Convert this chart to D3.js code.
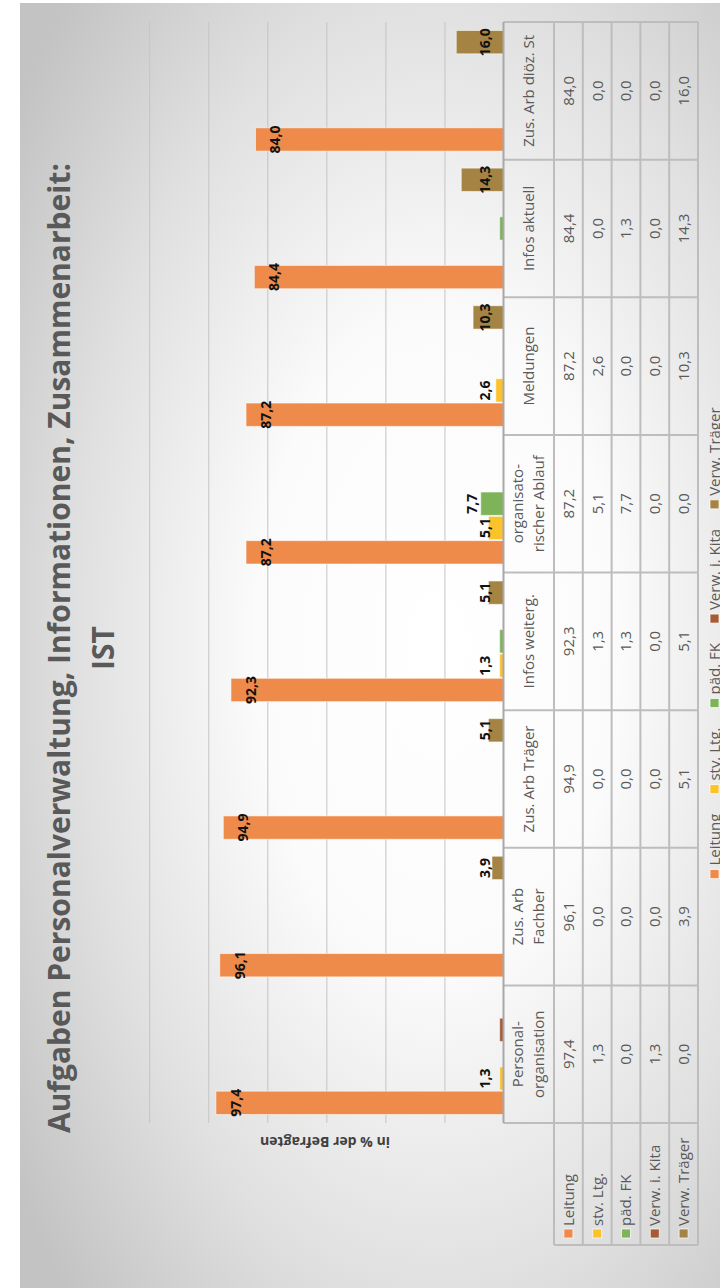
<!DOCTYPE html>
<html>
<head>
<meta charset="utf-8">
<script src="https://cdn.jsdelivr.net/npm/d3@7"></script>
<style>
body { margin: 0; background: #fff; }
svg { display: block; }
text { font-family: "Open Sans", sans-serif; }
</style>
</head>
<body>
<div id="chart"></div>
<script>
// Categories (table columns) and series (table rows)
var categories = ['Personal-\norganisation', 'Zus. Arb\nFachber', 'Zus. Arb Träger', 'Infos weiterg.',
    'organisato-\nrischer Ablauf', 'Meldungen', 'Infos aktuell', 'Zus. Arb diöz. St'];
var series = ['Leitung', 'stv. Ltg.', 'päd. FK', 'Verw. i. Kita', 'Verw. Träger'];

// Values in % der Befragten
var leitung     = [97.4, 96.1, 94.9, 92.3, 87.2, 87.2, 84.4, 84.0];
var stvLtg      = [1.3, 0.0, 0.0, 1.3, 5.1, 2.6, 0.0, 0.0];
var paedFK      = [0.0, 0.0, 0.0, 1.3, 7.7, 0.0, 1.3, 0.0];
var verwKita    = [1.3, 0.0, 0.0, 0.0, 0.0, 0.0, 0.0, 0.0];
var verwTraeger = [0.0, 3.9, 5.1, 5.1, 0.0, 10.3, 14.3, 16.0];

var yTicks = [0, 20, 40, 60, 80, 100, 120];

var titleLines = ['Aufgaben Personalverwaltung, Informationen, Zusammenarbeit:', 'IST'];
var yLabel = 'in % der Befragten';

var values = [leitung, stvLtg, paedFK, verwKita, verwTraeger];
var colors = ['#ee8a4a', '#fcc22c', '#7db45a', '#a65b37', '#a58443'];
// where each series puts its data labels
var labelMode = ['end', 'base', 'above', null, 'base'];

var fmt = d3.formatLocale({decimal: ',', thousands: '.', grouping: [3], currency: ['', '€']}).format('.1f');

// chart is drawn in its own frame, then turned a quarter to the left
var W = 1285, H = 720;
var plot = {left: 165, right: 1266, top: 129.2, bottom: 483.5};
var table = {labelLeft: 43, headBottom: 534, bottom: 678};

var svg = d3.select('#chart').append('svg')
    .attr('width', 720)
    .attr('height', 1288);

var defs = svg.append('defs');
var grad = defs.append('radialGradient')
    .attr('id', 'bg')
    .attr('cx', 0.5).attr('cy', 0.58).attr('r', 0.72);
grad.append('stop').attr('offset', '0%').attr('stop-color', '#ffffff');
grad.append('stop').attr('offset', '35%').attr('stop-color', '#fbfbfb');
grad.append('stop').attr('offset', '70%').attr('stop-color', '#e0e0e0');
grad.append('stop').attr('offset', '100%').attr('stop-color', '#c3c3c3');

var g = svg.append('g')
    .attr('transform', 'translate(20,1288) rotate(-90)');

g.append('rect')
    .attr('width', W)
    .attr('height', H)
    .attr('fill', 'url(#bg)');

// Scales
var x0 = d3.scaleBand().domain(categories).range([plot.left, plot.right]);
var x1 = d3.scaleBand().domain(series).range([8, x0.bandwidth() - 8]);
var y = d3.scaleLinear().domain([0, 120]).range([plot.bottom, plot.top]);
var rowY = d3.scaleBand().domain(series).range([table.headBottom, table.bottom]);

// Gridlines
var yAxis = d3.axisLeft(y)
    .tickValues(yTicks.slice(1))
    .tickSize(-(plot.right - plot.left))
    .tickFormat('');

g.append('g')
    .attr('class', 'grid')
    .attr('transform', 'translate(' + plot.left + ',0)')
    .call(yAxis)
    .call(function(a) { a.select('.domain').remove(); })
    .selectAll('line')
    .attr('stroke', '#c4c4c4')
    .attr('stroke-width', 1);

// Bars
var groups = g.selectAll('g.series')
    .data(series)
    .enter().append('g')
    .attr('class', 'series')
    .attr('fill', function(d, i) { return colors[i]; });

groups.selectAll('rect')
    .data(function(s, i) {
        return categories.map(function(c, j) { return {c: c, s: s, v: values[i][j]}; })
            .filter(function(d) { return d.v > 0; });
    })
    .enter().append('rect')
    .attr('x', function(d) { return x0(d.c) + x1(d.s) + 0.5; })
    .attr('width', x1.bandwidth() - 1)
    .attr('y', function(d) { return y(d.v); })
    .attr('height', function(d) { return y(0) - y(d.v); })
    .attr('stroke', 'rgba(255,255,255,0.55)')
    .attr('stroke-width', 1);

// Data labels
series.forEach(function(s, i) {
    var mode = labelMode[i];
    if (!mode) return;
    var pts = categories.map(function(c, j) { return {c: c, v: values[i][j]}; })
        .filter(function(d) { return mode === 'above' ? d.v >= 5 : d.v > 0; });
    g.selectAll('.lbl' + i)
        .data(pts)
        .enter().append('text')
        .attr('class', 'lbl' + i)
        .attr('x', function(d) { return x0(d.c) + x1(s) + x1.bandwidth() / 2; })
        .attr('y', function(d) {
            if (mode === 'end') return y(d.v) + 25;
            if (mode === 'above') return y(d.v) - 4;
            return y(0) - 14;
        })
        .attr('text-anchor', 'middle')
        .attr('font-size', '14px')
        .attr('font-weight', 'bold')
        .attr('fill', '#111')
        .text(function(d) { return fmt(d.v); });
});

// Data table
var lineCol = '#bdbdbd';
var tbl = g.append('g').attr('class', 'table');

// column borders
var bounds = categories.map(function(c) { return x0(c); }).concat([plot.right]);
tbl.selectAll('line.col')
    .data(bounds)
    .enter().append('line')
    .attr('class', 'col')
    .attr('x1', function(d) { return d; })
    .attr('x2', function(d) { return d; })
    .attr('y1', plot.bottom)
    .attr('y2', table.bottom)
    .attr('stroke', lineCol)
    .attr('stroke-width', 2);

// row borders
var rowBounds = series.map(function(s) { return rowY(s); }).concat([table.bottom]);
tbl.selectAll('line.row')
    .data(rowBounds)
    .enter().append('line')
    .attr('class', 'row')
    .attr('x1', table.labelLeft)
    .attr('x2', plot.right)
    .attr('y1', function(d) { return d; })
    .attr('y2', function(d) { return d; })
    .attr('stroke', lineCol)
    .attr('stroke-width', 2);

tbl.append('line')
    .attr('x1', table.labelLeft).attr('x2', table.labelLeft)
    .attr('y1', table.headBottom).attr('y2', table.bottom)
    .attr('stroke', lineCol)
    .attr('stroke-width', 2);

// category axis line
tbl.append('line')
    .attr('x1', plot.left).attr('x2', plot.right)
    .attr('y1', plot.bottom).attr('y2', plot.bottom)
    .attr('stroke', '#a8a8a8')
    .attr('stroke-width', 2);

// header text
var head = tbl.selectAll('text.head')
    .data(categories)
    .enter().append('text')
    .attr('class', 'head')
    .attr('text-anchor', 'middle')
    .attr('font-size', '15px')
    .attr('fill', '#595959');

head.each(function(c) {
    var lines = c.split('\n');
    var cx = x0(c) + x0.bandwidth() / 2;
    var base = lines.length > 1 ? 503 : 513.5;
    d3.select(this).selectAll('tspan')
        .data(lines)
        .enter().append('tspan')
        .attr('x', cx)
        .attr('y', function(d, k) { return base + k * 21; })
        .text(function(d) { return d; });
});

// cell values
series.forEach(function(s, i) {
    tbl.selectAll('.val' + i)
        .data(values[i])
        .enter().append('text')
        .attr('class', 'val' + i)
        .attr('x', function(d, j) { return x0(categories[j]) + x0.bandwidth() / 2; })
        .attr('y', rowY(s) + rowY.bandwidth() / 2)
        .attr('dy', '0.36em')
        .attr('text-anchor', 'middle')
        .attr('font-size', '15px')
        .attr('fill', '#595959')
        .text(function(d) { return fmt(d); });
});

// row labels with keys
var rl = tbl.selectAll('g.rowlabel')
    .data(series)
    .enter().append('g')
    .attr('class', 'rowlabel')
    .attr('transform', function(d) { return 'translate(0,' + (rowY(d) + rowY.bandwidth() / 2) + ')'; });

rl.append('rect')
    .attr('x', 50)
    .attr('y', -4.5)
    .attr('width', 9)
    .attr('height', 9)
    .attr('fill', function(d, i) { return colors[i]; })
    .attr('stroke', 'rgba(255,255,255,0.7)');

rl.append('text')
    .attr('x', 62)
    .attr('dy', '0.36em')
    .attr('font-size', '15px')
    .attr('fill', '#595959')
    .text(function(d) { return d; });

// Axis title
g.append('text')
    .attr('transform', 'translate(151,305) rotate(-90)')
    .attr('text-anchor', 'middle')
    .attr('font-size', '14px')
    .attr('font-weight', 'bold')
    .attr('fill', '#404040')
    .text(yLabel);

// Title
g.selectAll('text.title')
    .data(titleLines)
    .enter().append('text')
    .attr('class', 'title')
    .attr('x', 640)
    .attr('y', function(d, i) { return 50 + i * 44; })
    .attr('text-anchor', 'middle')
    .attr('font-size', '30px')
    .attr('font-weight', 'bold')
    .attr('fill', '#595959')
    .text(function(d) { return d; });

// Legend
var legend = g.append('g').attr('class', 'legend');
var items = legend.selectAll('g')
    .data(series)
    .enter().append('g');

items.append('rect')
    .attr('y', -10)
    .attr('width', 9)
    .attr('height', 9)
    .attr('fill', function(d, i) { return colors[i]; })
    .attr('stroke', 'rgba(255,255,255,0.7)');

items.append('text')
    .attr('x', 13)
    .attr('font-size', '15px')
    .attr('fill', '#595959')
    .text(function(d) { return d; });

var gap = 20;
var pos = 0;
var offsets = [];
items.each(function() {
    offsets.push(pos);
    pos += 13 + d3.select(this).select('text').node().getComputedTextLength() + gap;
});
var total = pos - gap;
items.attr('transform', function(d, i) {
    return 'translate(' + (645 - total / 2 + offsets[i]) + ',700)';
});
</script>
</body>
</html>
